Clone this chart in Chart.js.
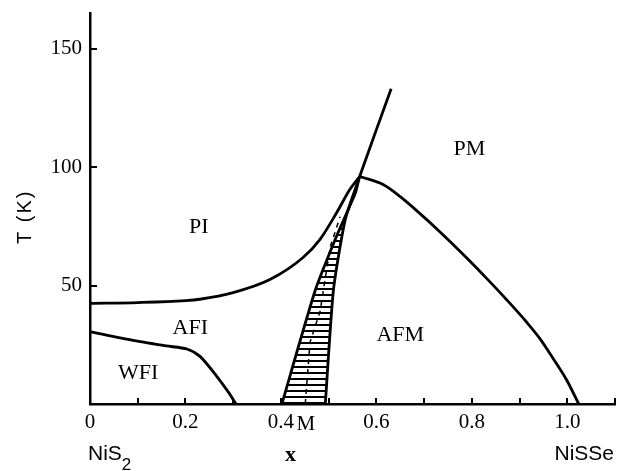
<!DOCTYPE html>
<html><head><meta charset="utf-8">
<script src="https://cdn.jsdelivr.net/npm/chart.js@4"></script>
<style>html,body{margin:0;padding:0;background:#fff}</style>
</head><body>
<canvas id="c" width="623" height="471" style="width:623px;height:471px;display:block"></canvas>
<script>
// ---- data ----
const xTickValues = [0, 0.1, 0.2, 0.3, 0.4, 0.5, 0.6, 0.7, 0.8, 0.9, 1.0, 1.1];
const xTickLabels = ['0', '', '0.2', '', '0.4', '', '0.6', '', '0.8', '', '1.0', ''];
const yTickValues = [50, 100, 150];

const piBoundaryX = [0, 0.1, 0.2, 0.23, 0.30, 0.377, 0.447, 0.482, 0.517, 0.545, 0.565];
const piBoundaryT = [42.5, 42.8, 43.6, 44.2, 47, 52.5, 61.9, 69.5, 80.8, 90.7, 96];

const wfiBoundaryX = [0, 0.09, 0.16, 0.203, 0.231, 0.266, 0.29, 0.306];
const wfiBoundaryT = [30.5, 26.8, 24.5, 23.2, 20, 11.6, 5, 0];

const mLeftX = [0.402, 0.472, 0.517, 0.556, 0.565, 0.631];
const mLeftT = [0, 48, 71, 89, 96, 133];

const mRightX = [0.493, 0.510, 0.535, 0.565];
const mRightT = [0, 48, 78, 96];

const mMidX = [0.451, 0.461, 0.482, 0.503, 0.524];
const mMidT = [0, 26, 39, 66, 79];

const afmBoundaryX = [0.565, 0.615, 0.65, 0.685, 0.734, 0.79, 0.832, 0.873, 0.915, 0.943, 0.971, 0.999, 1.024];
const afmBoundaryT = [96, 92.5, 87.5, 81.5, 72.5, 61.5, 52.8, 44, 34.5, 27.5, 19, 10, 0];

const regionLabels = ['PI', 'AFI', 'WFI', 'AFM', 'PM'];
const regionX = [0.228, 0.21, 0.101, 0.65, 0.795];
const regionT = [74.7, 32, 13, 29.2, 107.6];

const xAxisTitle = 'x';
const leftEndLabel = 'NiS';
const leftEndSub = '2';
const rightEndLabel = 'NiSSe';
const metalLabel = 'M';
const yAxisTitle = 'T (K)';

// ---- helpers ----
const pts = (xs, ys) => xs.map((x, i) => ({x: x, y: ys[i]}));
const SERIF = '"Liberation Serif", "Times New Roman", serif';
const SANS = '"Liberation Sans", Arial, sans-serif';

function lineDs(label, xs, ys, extra) {
  return Object.assign({
    label: label,
    data: pts(xs, ys),
    borderColor: '#000',
    borderWidth: 2.8,
    pointRadius: 0,
    fill: false,
    tension: 0,
    clip: 4
  }, extra || {});
}

const datasets = [
  lineDs('PI boundary', piBoundaryX, piBoundaryT, {cubicInterpolationMode: 'monotone'}),
  lineDs('WFI boundary', wfiBoundaryX, wfiBoundaryT, {tension: 0.25}),
  lineDs('M left edge', mLeftX, mLeftT, {tension: 0.2}),
  lineDs('M right edge', mRightX, mRightT, {tension: 0.2}),
  lineDs('M mid', mMidX, mMidT, {borderWidth: 1.5, borderDash: [5, 5]}),
  lineDs('AFM boundary', afmBoundaryX, afmBoundaryT, {cubicInterpolationMode: 'monotone'})
];

// hatch fill of the M region (between left and right edges), built from library-computed points
const hatchPlugin = {
  id: 'hatch',
  beforeDatasetsDraw(chart) {
    const ctx = chart.ctx;
    const left = chart.getDatasetMeta(2).data;
    const right = chart.getDatasetMeta(3).data;
    const pc = document.createElement('canvas');
    pc.width = 8; pc.height = 6;
    const p = pc.getContext('2d');
    p.fillStyle = '#000';
    p.fillRect(0, 0, 8, 2);
    const pattern = ctx.createPattern(pc, 'repeat');
    ctx.save();
    ctx.beginPath();
    const nLeft = mLeftT.indexOf(mRightT[mRightT.length - 1]);
    for (let i = 0; i <= nLeft; i++) {
      const e = left[i];
      if (i === 0) ctx.moveTo(e.x, e.y); else ctx.lineTo(e.x, e.y);
    }
    for (let i = right.length - 1; i >= 0; i--) ctx.lineTo(right[i].x, right[i].y);
    ctx.closePath();
    ctx.fillStyle = pattern;
    ctx.fill();
    ctx.restore();
  }
};

// inward tick marks + text labels
const decoPlugin = {
  id: 'deco',
  afterDraw(chart) {
    const ctx = chart.ctx;
    const xs = chart.scales.x, ys = chart.scales.y;
    const a = chart.chartArea;
    ctx.save();
    ctx.strokeStyle = '#000';
    ctx.lineWidth = 2;
    xTickValues.forEach(v => {
      const px = Math.round(xs.getPixelForValue(v));
      ctx.beginPath(); ctx.moveTo(px, a.bottom); ctx.lineTo(px, a.bottom - 6); ctx.stroke();
    });
    yTickValues.forEach(v => {
      const py = Math.round(ys.getPixelForValue(v));
      ctx.beginPath(); ctx.moveTo(a.left, py); ctx.lineTo(a.left + 7, py); ctx.stroke();
    });

    ctx.fillStyle = '#000';
    // region labels
    ctx.font = '22px ' + SERIF;
    ctx.textAlign = 'center';
    ctx.textBaseline = 'middle';
    regionLabels.forEach((t, i) => {
      ctx.fillText(t, xs.getPixelForValue(regionX[i]), ys.getPixelForValue(regionT[i]));
    });
    // "M" next to 0.4
    ctx.font = '21px ' + SERIF;
    ctx.textBaseline = 'alphabetic';
    ctx.fillText(metalLabel, xs.getPixelForValue(0.452), a.bottom + 26);
    // x axis title
    ctx.font = 'bold 22px ' + SERIF;
    ctx.fillText(xAxisTitle, xs.getPixelForValue(0.42), a.bottom + 57);
    // end members
    ctx.font = '21px ' + SANS;
    ctx.textAlign = 'left';
    const lx = xs.getPixelForValue(0) - 2;
    ctx.fillText(leftEndLabel, lx, a.bottom + 56);
    const w = ctx.measureText(leftEndLabel).width;
    ctx.font = '17px ' + SANS;
    ctx.fillText(leftEndSub, lx + w, a.bottom + 66);
    ctx.font = '21px ' + SANS;
    ctx.textAlign = 'right';
    ctx.fillText(rightEndLabel, xs.getPixelForValue(1.1) - 1, a.bottom + 56);
    // y axis title
    ctx.save();
    ctx.translate(25, ys.getPixelForValue(79));
    ctx.rotate(-Math.PI / 2);
    ctx.font = '20px ' + SANS;
    ctx.textAlign = 'center';
    ctx.textBaseline = 'middle';
    ctx.letterSpacing = '2px';
    ctx.fillText(yAxisTitle, 0, 0);
    ctx.restore();
    ctx.restore();
  }
};

new Chart(document.getElementById('c'), {
  type: 'line',
  data: {datasets: datasets},
  plugins: [hatchPlugin, decoPlugin],
  options: {
    responsive: false,
    animation: false,
    devicePixelRatio: 1,
    layout: {padding: {top: 13, right: 8, left: 0, bottom: 0}},
    plugins: {legend: {display: false}, tooltip: {enabled: false}},
    scales: {
      x: {
        type: 'linear',
        min: 0, max: 1.1,
        afterBuildTicks(scale) { scale.ticks = xTickValues.map(v => ({value: v})); },
        afterFit(scale) { scale.height = 67; scale.paddingLeft = 0; scale.paddingRight = 0; },
        grid: {display: true, drawOnChartArea: false, drawTicks: false},
        border: {display: true, color: '#000', width: 2.5},
        ticks: {
          color: '#000',
          padding: 6,
          maxRotation: 0,
          autoSkip: false,
          font: {family: SERIF, size: 21},
          callback(v) { const i = xTickValues.findIndex(t => Math.abs(t - v) < 1e-6); return i >= 0 ? xTickLabels[i] : ''; }
        }
      },
      y: {
        type: 'linear',
        min: 0, max: 165,
        afterBuildTicks(scale) { scale.ticks = yTickValues.map(v => ({value: v})); },
        afterFit(scale) { scale.width = 90; scale.paddingTop = 0; scale.paddingBottom = 0; },
        grid: {display: true, drawOnChartArea: false, drawTicks: false},
        border: {display: true, color: '#000', width: 2.5},
        ticks: {
          color: '#000',
          padding: 8,
          font: {family: SERIF, size: 21},
          callback(v) { return String(v); }
        }
      }
    }
  }
});
</script>
</body></html>
